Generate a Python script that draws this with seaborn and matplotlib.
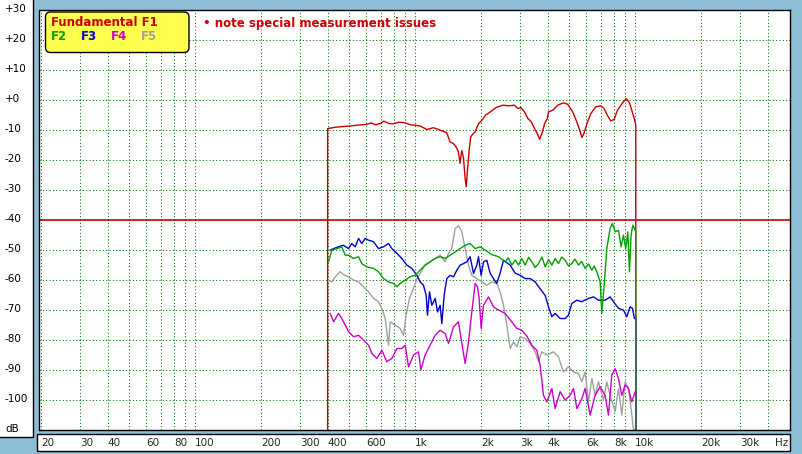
# Harmonic distortion chart (F1..F5), dB vs Hz on log axis
import numpy as np
import pandas as pd
import seaborn as sns
import matplotlib.pyplot as plt
from matplotlib.patches import Rectangle, FancyBboxPatch
from matplotlib.transforms import IdentityTransform, blended_transform_factory

# ---- values (Hz, dB) ----
f1_hz = [400, 400, 430, 470, 497, 540, 599, 630, 660, 696, 720, 760, 794, 840, 891, 950, 1006,
         1060, 1129, 1211, 1298, 1392, 1441,
         1492, 1534, 1573, 1600, 1629, 1659, 1687, 1706, 1735, 1759, 1790, 1841, 1874, 1943,
         2014, 2090, 2200, 2330, 2500, 2680, 2830, 2930, 3030, 3140, 3250, 3370, 3490, 3590,
         3680, 3770, 3880, 3990, 4040, 4220, 4450, 4720, 4940, 5200, 5380, 5570, 5730, 5870,
         6040, 6290, 6630, 6980, 7220, 7470, 7740, 8020, 8310, 8770, 9110, 9430, 9760, 10040,
         10070, 10070]
f1_db = [-110, -9.7, -9.3, -9.0, -8.9, -8.6, -8.3, -7.8, -8.4, -8.0, -7.2, -8.0, -8.1, -7.6, -7.7,
         -8.4, -8.6,
         -8.9, -10.0, -9.4, -10.2, -11.1, -14.1,
         -14.7, -15.8, -17.4, -21.3, -17.0, -19.5, -26.3, -29.1, -22.4, -16.9, -12.4, -11.3, -10.8, -8.0,
         -6.9, -5.2, -4.1, -2.7, -1.9, -2.1, -1.9, -3.0, -2.7, -4.1, -6.3, -7.4, -9.7, -11.3,
         -13.3, -11.3, -8.0, -6.3, -4.1, -3.6, -1.9, -1.1, -1.6, -4.1, -6.7, -9.7, -12.7, -11.1,
         -8.0, -4.7, -2.4, -2.1, -3.0, -5.2, -7.1, -6.7, -3.6, -1.1, 0.3, -1.1, -4.7, -8.0,
         -9.1, -110]

f2_hz = [404, 418, 441, 464, 481, 498, 525, 553, 572, 603, 647, 681, 718, 757, 797, 826, 855,
         901, 949, 1000, 1054, 1110, 1170, 1233, 1299, 1369, 1443, 1520, 1602, 1688, 1778,
         1874, 1975, 2081, 2232, 2393, 2566, 2650, 2751, 2850, 2950, 3050, 3163, 3280, 3392,
         3510, 3637, 3770, 3900, 4040, 4181, 4330, 4483, 4640, 4807, 4980, 5155, 5330, 5526,
         5720, 5926, 6140, 6357, 6520, 6696, 6934, 7056, 7254, 7434, 7698, 7888, 8113, 8401,
         8637, 8851, 9070, 9263, 9426, 9589, 9760, 10001, 10070, 10070]
f2_db = [-54.1, -50.2, -49.7, -49.1, -51.9, -51.9, -53.0, -52.4, -54.7, -55.8, -56.3, -57.4,
         -59.7, -60.8, -61.3, -62.4, -61.3, -60.2, -59.1, -58.6, -56.9, -55.2, -54.1, -53.0,
         -52.4, -53.0, -51.9, -50.8, -49.7, -48.6, -48.0, -49.7, -49.1, -50.2, -51.7, -52.4,
         -54.1, -52.8, -55.2, -53.5, -55.2, -53.0, -55.2, -52.6, -54.1, -56.0, -54.7, -52.5,
         -55.8, -53.3, -55.2, -53.0, -54.7, -52.5, -53.6, -55.5, -54.7, -53.2, -55.2, -54.0,
         -56.3, -54.8, -56.9, -55.5, -57.4, -60.8, -71.3, -60.8, -49.7, -43.0, -41.3, -44.1,
         -43.6, -49.1, -45.2, -49.7, -44.1, -57.4, -45.2, -41.9, -43.6, -43.6, -110]

f3_hz = [411, 426, 448, 472, 498, 515, 534, 553, 572, 593, 614, 647, 681, 718, 757, 784, 826,
         870, 917, 966, 1018, 1054, 1091, 1122, 1138, 1162, 1191, 1233, 1264, 1299, 1322, 1355,
         1393, 1443, 1494, 1547, 1602, 1659, 1717, 1778, 1842, 1907, 1941, 1995, 2045, 2117,
         2193, 2270, 2350, 2434, 2521, 2704, 2849, 3002, 3163, 3334, 3512, 3701, 3900, 4037,
         4181, 4329, 4561, 4807, 4977, 5155, 5433, 5723, 6137, 6467, 6816, 7307, 7698, 7972,
         8401, 8851, 9166, 9490, 9726, 9928, 10070, 10070]
f3_db = [-50.2, -49.7, -49.1, -48.6, -49.7, -48.0, -49.1, -46.3, -48.0, -46.3, -46.9, -47.4,
         -49.7, -49.1, -48.0, -49.7, -51.3, -53.0, -55.2, -56.3, -58.6, -60.8, -61.9, -65.2,
         -71.9, -64.1, -68.6, -66.3, -70.8, -68.6, -74.7, -65.2, -59.7, -58.6, -59.1, -56.9,
         -55.2, -54.7, -54.1, -52.4, -58.0, -55.2, -52.4, -58.6, -54.1, -53.6, -57.9, -59.7,
         -61.3, -57.9, -53.6, -55.2, -57.9, -58.6, -59.7, -59.7, -60.8, -63.1, -65.3, -69.1,
         -72.4, -71.3, -73.0, -73.0, -71.9, -68.0, -66.9, -67.4, -66.3, -65.8, -66.9, -66.9,
         -65.8, -67.4, -69.6, -70.2, -72.4, -69.1, -69.6, -73.0, -73.0, -110]

f4_hz = [411, 426, 448, 464, 481, 498, 525, 553, 582, 614, 636, 670, 706, 743, 784, 826, 870,
         901, 933, 983, 1036, 1061, 1110, 1170, 1233, 1299, 1369, 1418, 1494, 1574, 1630, 1688,
         1748, 1810, 1874, 1920, 1954, 1995, 2045, 2155, 2270, 2393, 2566, 2751, 2899, 3055,
         3220, 3392, 3574, 3701, 3832, 3969, 4181, 4329, 4561, 4807, 5066, 5245, 5433, 5723,
         5926, 6244, 6580, 6934, 7307, 7565, 7833, 8113, 8401, 8699, 9007, 9327, 9659, 10001,
         10070, 10070]
f4_db = [-71.3, -74.1, -71.3, -73.0, -75.2, -77.4, -79.1, -78.6, -80.2, -81.9, -84.7, -86.3,
         -83.6, -87.4, -86.3, -83.0, -83.0, -81.9, -89.1, -85.2, -84.1, -90.2, -85.2, -81.9,
         -78.6, -76.9, -78.0, -81.3, -75.8, -74.1, -81.3, -88.0, -80.8, -70.8, -61.3, -62.4,
         -66.2, -76.3, -68.6, -65.8, -69.1, -70.2, -71.3, -74.1, -76.3, -76.9, -78.9, -81.9,
         -83.6, -88.6, -98.6, -100.8, -96.3, -103.0, -97.4, -100.2, -98.6, -96.3, -103.0, -99.8,
         -96.3, -105.2, -98.6, -95.8, -98.6, -105.2, -91.9, -89.7, -93.0, -98.6, -95.2, -96.3,
         -100.8, -97.4, -97.4, -110]

f5_hz = [404, 418, 433, 456, 472, 498, 525, 553, 582, 614, 647, 681, 706, 731, 757, 770, 811,
         855, 885, 910, 942, 983, 1018, 1054, 1110, 1170, 1233, 1299, 1369, 1418, 1468, 1520,
         1574, 1630, 1688, 1748, 1810, 1907, 2009, 2117, 2232, 2350, 2434, 2521, 2610, 2704,
         2800, 2899, 3002, 3163, 3334, 3512, 3637, 3765, 3969, 4254, 4483, 4722, 4977, 5245,
         5526, 5723, 5926, 6137, 6357, 6580, 6816, 7179, 7434, 7698, 8113, 8401, 8699, 9007,
         9327, 9589, 9827, 10070]
f5_db = [-60.2, -60.8, -59.1, -57.4, -58.4, -59.1, -60.2, -60.8, -62.4, -64.1, -66.3, -67.4,
         -69.7, -73.0, -81.9, -74.1, -75.2, -76.3, -78.6, -71.9, -66.3, -63.0, -59.7, -58.0,
         -55.2, -54.1, -53.0, -51.9, -54.1, -51.3, -49.7, -43.0, -42.1, -44.1, -49.7, -55.2,
         -58.6, -59.7, -60.8, -61.9, -60.8, -61.3, -64.1, -68.6, -75.2, -83.0, -80.8, -82.4,
         -79.1, -79.7, -81.3, -84.1, -87.4, -84.1, -85.2, -84.1, -85.8, -90.8, -89.1, -90.8,
         -91.3, -94.1, -90.8, -100.8, -93.0, -98.6, -94.1, -100.2, -94.1, -98.6, -104.1, -96.3,
         -105.2, -94.1, -96.3, -103.0, -110, -110]

y_ticks = [30, 20, 10, 0, -10, -20, -30, -40, -50, -60, -70, -80, -90, -100, -110]
y_labels = ['+30', '+20', '+10', '+0', '-10', '-20', '-30', '-40', '-50', '-60', '-70',
            '-80', '-90', '-100', 'dB']
x_ticks = [20, 30, 40, 60, 80, 100, 200, 300, 400, 600, 1000, 2000, 3000, 4000, 6000,
           8000, 10000, 20000, 30000]
x_labels = ['20', '30', '40', '60', '80', '100', '200', '300', '400', '600', '1k', '2k',
            '3k', '4k', '6k', '8k', '10k', '20k', '30k']

colors = {'F1': '#CC0000', 'F2': '#00A000', 'F3': '#0000CC', 'F4': '#CC00CC', 'F5': '#A0A0A0'}

frames = []
for name, hz, db in [('F1', f1_hz, f1_db), ('F2', f2_hz, f2_db), ('F3', f3_hz, f3_db),
                     ('F4', f4_hz, f4_db), ('F5', f5_hz, f5_db)]:
    frames.append(pd.DataFrame({'Hz': hz, 'dB': db, 'series': name}))
df = pd.concat(frames, ignore_index=True)

# ---- figure ----
sns.set_style('white')
plt.rcParams['font.family'] = ['DejaVu Sans']

W, H = 803, 454
fig = plt.figure(figsize=(W / 100, H / 100), dpi=100)
fig.patch.set_facecolor('#8EBED6')


def fx(x):
    return x / W


def fy(y):
    return 1 - y / H


def pbox(x0, y0, x1, y1, **kw):
    return Rectangle((x0, H - y1), x1 - x0, y1 - y0, transform=IdentityTransform(), **kw)


ax = fig.add_axes([fx(39.5), fy(429.5), (790 - 39.5) / W, (429.5 - 9.5) / H])
ax.set_xscale('log')
ax.set_xlim(19.6, 50600)
ax.set_ylim(-110, 30)

grid_hz = [m * 10 ** e for e in range(1, 5) for m in range(1, 10) if 20 <= m * 10 ** e <= 40000]
ax.set_xticks(grid_hz)
ax.xaxis.set_minor_locator(plt.NullLocator())
ax.set_yticks([v for v in y_ticks if v not in (30, -40, -110)])
ax.grid(True, color='#007000', linestyle=(0, (1, 2.2)), lw=0.75)
ax.tick_params(length=0, labelbottom=False, labelleft=False)
for s in ax.spines.values():
    s.set_color('black')
    s.set_linewidth(1)
ax.axhline(-40, color='#CC0000', lw=1.2, zorder=1.5)

sns.lineplot(data=df, x='Hz', y='dB', hue='series', hue_order=['F1', 'F5', 'F4', 'F3', 'F2'],
             palette=colors, sort=False, estimator=None, legend=False, lw=1.0, ax=ax)
ax.set_xlabel('')
ax.set_ylabel('')

# left panel with dB labels
fig.add_artist(pbox(-2, -2, 32.5, 437, fc='white', ec='black', lw=1))
ytr = blended_transform_factory(fig.transFigure, ax.transData)
for v, lab in zip(y_ticks, y_labels):
    fig.text(fx(5), v, lab, transform=ytr, ha='left', va='center', fontsize=7.5, color='black')

# bottom panel with Hz labels
fig.add_artist(pbox(36.5, 433.5, 790, 451, fc='white', ec='black', lw=1))
xtr = blended_transform_factory(ax.transData, fig.transFigure)
for v, lab in zip(x_ticks, x_labels):
    fig.text(v, fy(442.5), lab, transform=xtr, ha='left', va='center', fontsize=7.5)
fig.text(fx(775), fy(442.5), 'Hz', ha='left', va='center', fontsize=7.5)

# legend box
fig.add_artist(FancyBboxPatch((45.5, H - 52.5), 143.5, 40.5,
                              boxstyle='round,pad=0,rounding_size=5',
                              fc='#FFFF50', ec='black', lw=1, transform=IdentityTransform()))
fig.text(fx(51), fy(22), 'Fundamental F1', color='#CC0000', fontsize=8.5, fontweight='bold',
         va='center')
for lab, x0 in zip(['F2', 'F3', 'F4', 'F5'], [51, 81, 111, 141]):
    fig.text(fx(x0), fy(37), lab, color=colors[lab], fontsize=8.5, fontweight='bold', va='center')

fig.text(fx(203), fy(23.5), '\u2022 note special measurement issues', color='#CC0000',
         fontsize=8.5, fontweight='bold', va='center')

fig.savefig('out.png', dpi=100, facecolor=fig.get_facecolor())
